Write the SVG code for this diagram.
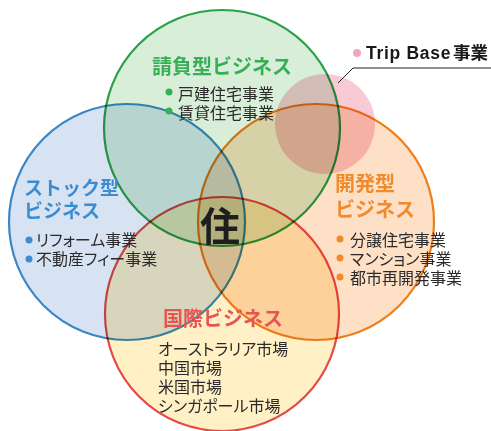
<svg xmlns="http://www.w3.org/2000/svg" width="491" height="431" viewBox="0 0 491 431">
<style>
.c{mix-blend-mode:multiply;stroke-width:2.2}
.t{font-family:"Liberation Sans","Noto Sans CJK JP",sans-serif;font-weight:700}
.i{font-family:"Liberation Sans","Noto Sans CJK JP",sans-serif;font-size:16px;fill:#2a2a2a;font-feature-settings:"palt"}
</style>
<rect width="491" height="431" fill="#fff"/>
<g id="green"><circle class="c" cx="222" cy="128" r="118" fill="#d9eed9" stroke="#2aa148"/></g>
<g id="blue"><circle class="c" cx="127" cy="222" r="118" fill="#d7e3f3" stroke="#3a87c6"/></g>
<g id="orange"><circle class="c" cx="316" cy="222" r="118" fill="#fde0c6" stroke="#ef7d1a"/></g>
<g id="red"><circle class="c" cx="222" cy="314" r="117" fill="#fff0c6" stroke="#e64a45"/></g>
<g id="tripbase">
<circle cx="325" cy="124" r="50" fill="#f5b3c3" style="mix-blend-mode:multiply" opacity="0.7"/>
<circle cx="357" cy="53" r="4" fill="#f2a7b8"/>
<text x="366" y="59" font-size="17.5" font-weight="700" letter-spacing="0.7" fill="#1a1a1a" font-family="Liberation Sans,Noto Sans CJK JP,sans-serif">Trip Base<tspan dx="2" letter-spacing="0">事業</tspan></text>
</g>
<g id="connectors"><polyline points="338,83 353,68 491,68" fill="none" stroke="#222" stroke-width="1"/></g>
<g id="green-text">
<text class="t" x="152" y="74" font-size="20" fill="#36b056">請負型ビジネス</text>
<circle cx="169" cy="92" r="3.5" fill="#36b056"/><text class="i" x="178" y="100">戸建住宅事業</text>
<circle cx="169" cy="111" r="3.5" fill="#36b056"/><text class="i" x="178" y="119">賃貸住宅事業</text>
</g>
<g id="blue-text">
<text class="t" x="24" y="195" font-size="19" fill="#3b8cd0">ストック型</text>
<text class="t" x="24" y="218" font-size="19" fill="#3b8cd0">ビジネス</text>
<circle cx="29" cy="240" r="3.5" fill="#3b8cd0"/><text class="i" x="36" y="246">リフォーム事業</text>
<circle cx="29" cy="259" r="3.5" fill="#3b8cd0"/><text class="i" x="36" y="265">不動産フィー事業</text>
</g>
<g id="orange-text">
<text class="t" x="335" y="191" font-size="20" fill="#f08a2a">開発型</text>
<text class="t" x="335" y="217" font-size="20" fill="#f08a2a">ビジネス</text>
<circle cx="340" cy="239" r="3.5" fill="#f08a2a"/><text class="i" x="350" y="246">分譲住宅事業</text>
<circle cx="340" cy="258" r="3.5" fill="#f08a2a"/><text class="i" x="350" y="265">マンション事業</text>
<circle cx="340" cy="277" r="3.5" fill="#f08a2a"/><text class="i" x="350" y="284">都市再開発事業</text>
</g>
<g id="red-text">
<text class="t" x="163" y="326" font-size="20" fill="#e85550">国際ビジネス</text>
<text class="i" x="158" y="355">オーストラリア市場</text>
<text class="i" x="158" y="374">中国市場</text>
<text class="i" x="158" y="393">米国市場</text>
<text class="i" x="158" y="412">シンガポール市場</text>
</g>
<g id="center"><text class="t" x="220" y="241" font-size="40" fill="#1e1e1e" text-anchor="middle">住</text></g>
</svg>
